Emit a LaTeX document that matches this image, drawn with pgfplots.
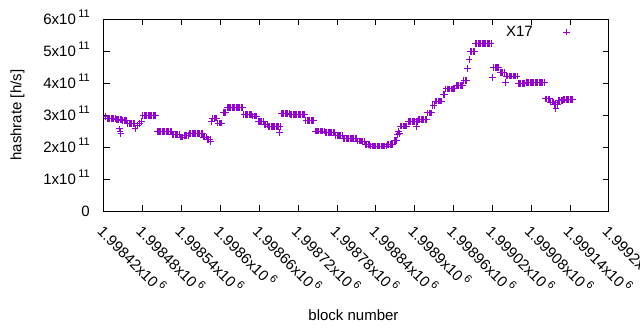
\documentclass[border=0pt]{standalone}
\usepackage{fontspec}
\setmainfont{Liberation Sans}
\usepackage{pgfplots}
\pgfplotsset{compat=1.18}
\definecolor{dv}{HTML}{9400D3}
\newcommand{\sci}[2]{#1x10\smash{\kern2.5bp\raisebox{6.5bp}{\fontsize{11bp}{11bp}\selectfont #2}}}
\newcommand{\tfont}{\fontsize{15bp}{18bp}\selectfont}
\begin{document}
\begin{tikzpicture}
\begin{axis}[
  at={(0,0)}, anchor=south west,
  scale only axis, width=505bp, height=191.7bp,
  xmin=0, xmax=780, ymin=0, ymax=6e11,
  xtick={0,60,...,780},
  xticklabels={\sci{1.99842}{6},\sci{1.99848}{6},\sci{1.99854}{6},\sci{1.9986}{6},\sci{1.99866}{6},\sci{1.99872}{6},\sci{1.99878}{6},\sci{1.99884}{6},\sci{1.9989}{6},\sci{1.99896}{6},\sci{1.99902}{6},\sci{1.99908}{6},\sci{1.99914}{6},\sci{1.9992}{6}},
  ytick={0,1e11,2e11,3e11,4e11,5e11,6e11},
  yticklabels={0,\sci{1}{11},\sci{2}{11},\sci{3}{11},\sci{4}{11},\sci{5}{11},\sci{6}{11}},
  scaled y ticks=false, scaled x ticks=false,
  tick align=inside, major tick length=6bp,
  axis line style={line width=1bp, black},
  every tick/.style={line width=1bp, black},
  tick label style={font=\tfont},
  yticklabel style={anchor=east, inner sep=0pt, xshift=-14bp},
  xticklabel style={yshift=-14bp, rotate=-45, anchor=north west, inner sep=0pt},
  xlabel={block number},
  ylabel={hashrate [h/s]},
  every axis x label/.style={at={(axis description cs:0.494,-0.544)}, anchor=center, font=\tfont, inner sep=0pt},
  every axis y label/.style={at={(axis description cs:-0.1713,0.5)}, rotate=90, anchor=center, font=\tfont, inner sep=0pt},
  legend plot pos=right,
  legend style={draw=none, fill=none, at={(axis description cs:0.9287,0.9337)}, anchor=east, inner sep=0pt, font=\tfont, nodes={inner sep=0pt}},
  legend image code/.code={\path[draw=none,fill=none] (0bp,-5bp) rectangle (40bp,5bp); \draw[#1] plot coordinates {(34bp,0bp)};},
]
% x = block number minus 1998420
\addplot[only marks, mark=+, mark size=3.3bp, color=dv, line width=1bp] coordinates {
(3,2.96e11)(5,2.90e11)(7,2.90e11)(9,2.90e11)(11,2.90e11)(13,2.90e11)(15,2.90e11)(17,2.90e11)
(19,2.87e11)(21,2.87e11)(23,2.87e11)(25,2.87e11)(27,2.87e11)
(24,2.57e11)(25,2.49e11)(26,2.42e11)
(29,2.83e11)(31,2.83e11)(33,2.83e11)(35,2.83e11)
(37,2.74e11)(39,2.74e11)(41,2.74e11)(43,2.74e11)(45,2.74e11)(47,2.74e11)
(48,2.58e11)(52,2.69e11)(55,2.74e11)(58,2.81e11)
(60,2.99e11)(62,2.99e11)(64,2.99e11)(66,2.99e11)(68,2.99e11)(70,2.99e11)(72,2.99e11)(74,2.99e11)(76,2.99e11)(78,2.99e11)(80,2.99e11)
(82,2.49e11)(84,2.49e11)(86,2.49e11)(88,2.49e11)(90,2.49e11)(92,2.49e11)(94,2.49e11)(96,2.49e11)(98,2.49e11)(100,2.49e11)(102,2.49e11)(104,2.49e11)
(106,2.40e11)(108,2.40e11)(110,2.40e11)(112,2.40e11)(114,2.40e11)(116,2.40e11)
(118,2.31e11)(120,2.31e11)(122,2.31e11)
(124,2.37e11)(126,2.37e11)(128,2.37e11)(130,2.37e11)
(132,2.42e11)(134,2.42e11)(136,2.42e11)(138,2.42e11)(140,2.42e11)(142,2.42e11)(144,2.42e11)(146,2.42e11)(148,2.42e11)(150,2.42e11)(152,2.42e11)
(154,2.31e11)(156,2.31e11)(158,2.31e11)
(160,2.23e11)(162,2.23e11)(164,2.23e11)(165,2.17e11)
(166,2.79e11)(168,2.91e11)(170,2.91e11)(172,2.91e11)(174,2.91e11)
(176,2.75e11)(178,2.75e11)(180,2.75e11)(182,2.75e11)
(184,3.08e11)(186,3.08e11)(188,3.08e11)
(190,3.24e11)(192,3.24e11)(194,3.24e11)(196,3.24e11)(198,3.24e11)(200,3.24e11)(202,3.24e11)(204,3.24e11)(206,3.24e11)(208,3.24e11)(210,3.24e11)(212,3.24e11)(214,3.24e11)
(216,3.02e11)(218,3.02e11)(220,3.02e11)(222,3.02e11)(224,3.02e11)(226,3.02e11)(228,3.02e11)
(230,2.97e11)(232,2.97e11)(234,2.97e11)(236,2.97e11)
(238,2.80e11)(240,2.80e11)(242,2.80e11)(244,2.80e11)(246,2.80e11)
(248,2.71e11)(250,2.71e11)(252,2.71e11)
(254,2.65e11)(256,2.65e11)(258,2.65e11)(260,2.65e11)(262,2.65e11)(264,2.65e11)(266,2.65e11)(268,2.65e11)(270,2.65e11)(272,2.65e11)(271,2.45e11)
(274,3.05e11)(276,3.05e11)(278,3.05e11)(280,3.05e11)(282,3.05e11)(284,3.05e11)(286,3.05e11)
(288,3.02e11)(290,3.02e11)(292,3.02e11)(294,3.02e11)(296,3.02e11)(298,3.02e11)(300,3.02e11)(302,3.02e11)(304,3.02e11)(306,3.02e11)(308,3.02e11)(310,3.02e11)
(312,2.84e11)(314,2.84e11)(316,2.84e11)(318,2.84e11)(320,2.84e11)(322,2.84e11)(324,2.84e11)
(326,2.50e11)(328,2.50e11)(330,2.50e11)(332,2.50e11)(334,2.50e11)(336,2.50e11)(338,2.50e11)(340,2.50e11)
(342,2.46e11)(344,2.46e11)(346,2.46e11)(348,2.46e11)(350,2.46e11)(352,2.46e11)(354,2.46e11)(356,2.46e11)
(358,2.36e11)(360,2.36e11)(362,2.36e11)(364,2.36e11)(366,2.36e11)(368,2.36e11)
(370,2.27e11)(372,2.27e11)(374,2.27e11)(376,2.27e11)(378,2.27e11)(380,2.27e11)(382,2.27e11)(384,2.27e11)(386,2.27e11)(388,2.27e11)(390,2.27e11)
(392,2.19e11)(394,2.19e11)(396,2.19e11)(398,2.19e11)(400,2.19e11)(402,2.19e11)
(404,2.09e11)(406,2.09e11)(408,2.09e11)(410,2.09e11)
(412,2.03e11)(414,2.03e11)(416,2.03e11)(418,2.03e11)(420,2.03e11)(422,2.03e11)(424,2.03e11)(426,2.03e11)(428,2.03e11)(430,2.03e11)(432,2.03e11)(434,2.03e11)(436,2.03e11)
(438,2.08e11)(440,2.08e11)(442,2.08e11)(444,2.08e11)(446,2.08e11)
(448,2.20e11)(450,2.20e11)(452,2.20e11)
(453,2.40e11)(455,2.50e11)(456,2.43e11)
(458,2.66e11)(460,2.66e11)(462,2.66e11)(464,2.66e11)(466,2.66e11)(468,2.66e11)
(470,2.81e11)(472,2.81e11)(474,2.81e11)(476,2.81e11)(478,2.81e11)(480,2.81e11)(482,2.81e11)(484,2.81e11)(483,2.65e11)
(486,2.86e11)(488,2.86e11)(490,2.86e11)(492,2.86e11)(494,2.86e11)(496,2.86e11)(498,2.86e11)
(500,3.07e11)(502,3.07e11)(504,3.07e11)(506,3.07e11)
(508,3.30e11)(510,3.30e11)
(512,3.44e11)(514,3.44e11)(516,3.44e11)(518,3.44e11)(520,3.44e11)(522,3.44e11)
(524,3.64e11)(526,3.64e11)
(528,3.82e11)(530,3.82e11)(532,3.82e11)(534,3.82e11)(536,3.82e11)(538,3.82e11)(540,3.82e11)(542,3.82e11)
(544,3.92e11)(546,3.92e11)(548,3.92e11)(550,3.92e11)(552,3.92e11)(554,3.92e11)
(556,4.08e11)(558,4.08e11)(560,4.08e11)
(561,4.46e11)(564,4.74e11)
(566,4.99e11)(568,4.99e11)(570,4.99e11)(572,4.99e11)
(574,5.24e11)(576,5.24e11)(578,5.24e11)(580,5.24e11)(582,5.24e11)(584,5.24e11)(586,5.24e11)(588,5.24e11)(590,5.24e11)(592,5.24e11)(594,5.24e11)(596,5.24e11)(598,5.24e11)
(600,4.17e11)
(602,4.49e11)(604,4.49e11)(606,4.49e11)(608,4.49e11)(610,4.49e11)
(612,4.33e11)(614,4.33e11)(616,4.33e11)(618,4.33e11)(620,4.02e11)
(622,4.22e11)(624,4.22e11)(626,4.22e11)(628,4.22e11)(630,4.22e11)(632,4.22e11)(634,4.22e11)(636,4.22e11)(638,4.22e11)
(640,4.00e11)(642,4.00e11)(644,4.00e11)(646,4.00e11)(648,4.00e11)(650,4.00e11)
(652,4.03e11)(654,4.03e11)(656,4.03e11)(658,4.03e11)(660,4.03e11)(662,4.03e11)(664,4.03e11)(666,4.03e11)(668,4.03e11)(670,4.03e11)(672,4.03e11)(674,4.03e11)(676,4.03e11)(678,4.03e11)(680,4.03e11)
(682,3.51e11)(684,3.51e11)(686,3.51e11)(688,3.51e11)
(690,3.41e11)(692,3.41e11)(694,3.41e11)
(696,3.34e11)(698,3.34e11)(700,3.34e11)(698,3.21e11)
(702,3.45e11)(704,3.45e11)(706,3.45e11)(708,3.45e11)
(710,3.49e11)(712,3.49e11)(714,3.49e11)(716,3.49e11)(718,3.49e11)(720,3.49e11)(722,3.49e11)(724,3.49e11)
};
\addlegendentry{X17}
\end{axis}
\pgfresetboundingbox
\path[use as bounding box] (-104bp,-119bp) rectangle (536bp,211bp);
\end{tikzpicture}
\end{document}
